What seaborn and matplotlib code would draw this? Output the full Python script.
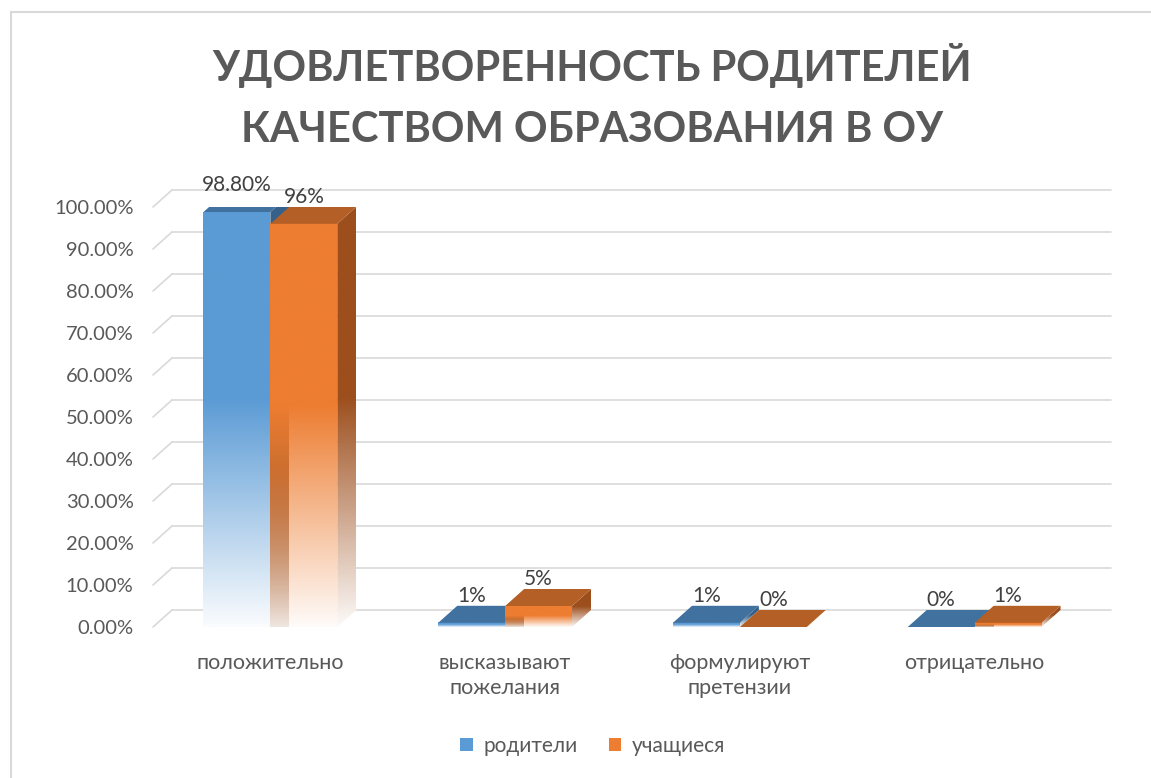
import numpy as np
import pandas as pd
import matplotlib
matplotlib.use('Agg')
import matplotlib.pyplot as plt
import seaborn as sns
from matplotlib.patches import Polygon, Rectangle, Patch

# ---------------- data ----------------
categories = ['положительно', 'высказывают\nпожелания', 'формулируют\nпретензии', 'отрицательно']
series_names = ['родители', 'учащиеся']
parents = [0.988, 0.01, 0.01, 0.0]
students = [0.96, 0.05, 0.0, 0.01]
parent_labels = ['98.80%', '1%', '1%', '0%']
student_labels = ['96%', '5%', '0%', '1%']
title = 'УДОВЛЕТВОРЕННОСТЬ РОДИТЕЛЕЙ\nКАЧЕСТВОМ ОБРАЗОВАНИЯ В ОУ'
yticks = [0.0, 0.1, 0.2, 0.3, 0.4, 0.5, 0.6, 0.7, 0.8, 0.9, 1.0]

# ---------------- style ----------------
front_colors = ['#5b9bd5', '#ed7d31']
side_colors = ['#35618a', '#9c4e1c']
top_colors = ['#41729f', '#b45f26']
inner_colors = [None, '#7a4a2c']
text_color = '#595959'
grid_color = '#d9d9d9'

sns.set_theme(style='white')
plt.rcParams['font.family'] = ['Lato', 'Open Sans', 'DejaVu Sans']

df = pd.DataFrame({
    'category': categories * 2,
    'value': parents + students,
    'group': [series_names[0]] * len(categories) + [series_names[1]] * len(categories),
})
labels_by_series = [parent_labels, student_labels]

W, H = 1151, 778
fig = plt.figure(figsize=(W / 100, H / 100), dpi=100)
left_px, right_px, bottom_px, top_px = 153, 1092, 627, 207
ax = fig.add_axes([left_px / W, 1 - bottom_px / H, (right_px - left_px) / W, (bottom_px - top_px) / H])

sns.barplot(data=df, x='category', y='value', hue='group', palette=front_colors,
            width=0.57, saturation=1, ax=ax, legend=False)

ax.set_xlim(-0.5, 3.5)
ax.set_ylim(0, 1.0)
px_per_x = (right_px - left_px) / 4.0
px_per_y = (bottom_px - top_px) / 1.0
dx = 19 / px_per_x
dy = 17 / px_per_y


def fade(t):
    return np.clip(0.03 + 0.97 * t / 0.55, 0, 1)


def grad_img(color, n=200, inner=None):
    rgb = np.array(matplotlib.colors.to_rgb(color))
    t = np.linspace(0, 1, n)
    a = fade(t)[:, None]
    behind = np.ones((n, 3))
    if inner is not None:
        irgb = np.array(matplotlib.colors.to_rgb(inner))
        b = np.clip(0.12 + 0.88 * t / 0.4, 0, 1)[:, None]
        behind = irgb[None, :] * b + (1 - b) * behind
    img = rgb[None, :] * a + (1 - a) * behind
    return img[:, None, :]


for hi, cont in enumerate(ax.containers):
    zb = 2 + hi * 0.5
    for ci, bar in enumerate(cont):
        x0 = bar.get_x()
        w = bar.get_width()
        h = bar.get_height()
        x1 = x0 + w
        bar.set_facecolor('none')
        bar.set_edgecolor('none')
        if h > 0:
            ax.imshow(grad_img(front_colors[hi]), extent=[x0, x1, 0, h], origin='lower',
                      aspect='auto', zorder=zb, interpolation='bilinear')
            if inner_colors[hi] is not None:
                ax.imshow(grad_img(front_colors[hi], inner=inner_colors[hi]),
                          extent=[x0, x0 + dx, 0, h], origin='lower',
                          aspect='auto', zorder=zb + 0.05, interpolation='bilinear')
            side = Polygon([(x1, 0), (x1 + dx, dy), (x1 + dx, h + dy), (x1, h)], closed=True,
                           facecolor='none', edgecolor='none', zorder=zb + 0.1)
            ax.add_patch(side)
            im = ax.imshow(grad_img(side_colors[hi]), extent=[x1, x1 + dx, 0, h + dy], origin='lower',
                           aspect='auto', zorder=zb + 0.1, interpolation='bilinear')
            im.set_clip_path(side)
        topf = Polygon([(x0, h), (x1, h), (x1 + dx, h + dy), (x0 + dx, h + dy)], closed=True,
                       facecolor=top_colors[hi], edgecolor='none', zorder=zb + 0.2)
        ax.add_patch(topf)
        ax.text(x0 + w / 2, h + dy, labels_by_series[hi][ci], ha='center', va='bottom',
                fontsize=15, color='#404040', zorder=5)

ax.set_xlim(-0.5, 3.5)
ax.set_ylim(0, 1.0)

# back wall gridlines + side wall diagonals
for y in yticks:
    ax.plot([-0.5 + dx, 3.5 + dx], [y + dy, y + dy], color=grid_color, lw=1.2, zorder=0.5, clip_on=False)
    ax.plot([-0.5, -0.5 + dx], [y, y + dy], color=grid_color, lw=1.2, zorder=0.5, clip_on=False)

ax.grid(False)
for s in ax.spines.values():
    s.set_visible(False)
ax.set_xlabel('')
ax.set_ylabel('')
ax.set_xticks(range(len(categories)))
ax.set_xticklabels(categories, fontsize=15.5, color=text_color, linespacing=1.3)
ax.set_yticks(yticks)
ax.set_yticklabels(['{:.2f}%'.format(v * 100) for v in yticks], fontsize=14.5, color=text_color)
ax.tick_params(axis='x', length=0, pad=19)
ax.tick_params(axis='y', length=0, pad=14)

fig.text(0.514, 1 - 96 / H, title, ha='center', va='center', fontsize=30, weight='bold',
         color=text_color, linespacing=1.75)

handles = [Patch(facecolor=front_colors[0], edgecolor='none'), Patch(facecolor=front_colors[1], edgecolor='none')]
leg = fig.legend(handles, series_names, loc='center', bbox_to_anchor=(0.515, 1 - 746 / H), ncol=2,
                 frameon=False, fontsize=15, handlelength=0.6, handleheight=0.6,
                 columnspacing=1.5, handletextpad=0.5)
for t in leg.get_texts():
    t.set_color(text_color)

fig.add_artist(Rectangle((11 / W, -0.05), 1.2, 1 - 12 / H + 0.05, transform=fig.transFigure,
                         fill=False, edgecolor=grid_color, lw=1.5))

fig.savefig('out.png', dpi=100, facecolor='white')
